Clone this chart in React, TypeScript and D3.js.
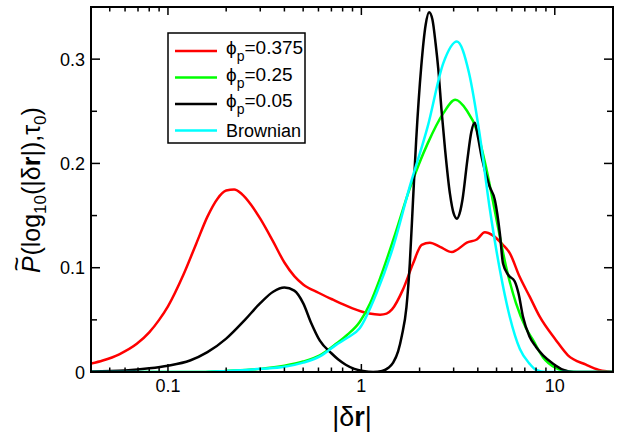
import React from "react";
import * as d3 from "d3";

const W = 625;
const H = 437;
const PLOT = { left: 91, right: 613, top: 7, bottom: 372 };

const X_DOMAIN: [number, number] = [0.04, 20];
const Y_DOMAIN: [number, number] = [0, 0.35];

const X_MAJOR = [0.1, 1, 10];
const X_MAJOR_LABELS = ["0.1", "1", "10"];
const X_MINOR = [0.05, 0.06, 0.07, 0.08, 0.09, 0.2, 0.3, 0.4, 0.5, 0.6, 0.7, 0.8, 0.9, 2, 3, 4, 5, 6, 7, 8, 9];
const Y_MAJOR = [0, 0.1, 0.2, 0.3];
const Y_MAJOR_LABELS = ["0", "0.1", "0.2", "0.3"];
const Y_MINOR = [0.05, 0.15, 0.25];

// phi_p = 0.375 (red)
const redX = [0.04, 0.046, 0.056, 0.069, 0.08, 0.09, 0.1, 0.12, 0.14, 0.16, 0.18, 0.2, 0.22, 0.24, 0.27, 0.3, 0.35, 0.4, 0.45, 0.5, 0.6, 0.7, 0.8, 0.9, 1.0, 1.1, 1.25, 1.35, 1.44, 1.64, 1.85, 2.05, 2.26, 2.55, 2.94, 3.11, 3.51, 3.95, 4.35, 4.78, 5.39, 5.85, 6.59, 7.43, 8.36, 10.1, 11.7, 14.5, 16.9, 19, 20];
const redY = [0.008, 0.011, 0.017, 0.027, 0.038, 0.05, 0.063, 0.093, 0.123, 0.149, 0.166, 0.174, 0.175, 0.171, 0.16, 0.147, 0.125, 0.105, 0.092, 0.084, 0.076, 0.07, 0.065, 0.061, 0.058, 0.056, 0.055, 0.056, 0.06, 0.079, 0.104, 0.122, 0.124, 0.12, 0.115, 0.117, 0.124, 0.127, 0.134, 0.131, 0.122, 0.114, 0.091, 0.072, 0.053, 0.031, 0.016, 0.007, 0.002, 0.0005, 0.0];

// phi_p = 0.25 (green)
const greenX = [0.04, 0.15, 0.2, 0.3, 0.4, 0.5, 0.61, 0.74, 0.85, 0.98, 1.11, 1.25, 1.47, 1.78, 2.2, 2.65, 3.06, 3.5, 3.95, 4.44, 5.0, 5.6, 6.3, 7.1, 7.7, 8.7, 10.1, 11.4, 13, 20];
const greenY = [0, 0, 0.001, 0.003, 0.006, 0.01, 0.016, 0.027, 0.036, 0.048, 0.066, 0.09, 0.128, 0.176, 0.219, 0.248, 0.261, 0.251, 0.232, 0.194, 0.146, 0.101, 0.066, 0.042, 0.031, 0.014, 0.004, 0.001, 0, 0];

// phi_p = 0.05 (black)
const blackX = [0.04, 0.06, 0.08, 0.1, 0.13, 0.16, 0.2, 0.25, 0.3, 0.35, 0.4, 0.45, 0.5, 0.55, 0.61, 0.7, 0.76, 0.83, 0.92, 1.02, 1.15, 1.28, 1.38, 1.46, 1.55, 1.62, 1.71, 1.78, 1.85, 1.92, 2.04, 2.15, 2.24, 2.33, 2.42, 2.5, 2.6, 2.71, 2.87, 3.0, 3.12, 3.22, 3.33, 3.53, 3.7, 3.86, 4.0, 4.2, 4.6, 4.9, 5.2, 5.4, 5.75, 6.2, 6.5, 6.85, 7.4, 8.0, 8.7, 9.8, 11.1, 12.5, 20];
const blackY = [0.0005, 0.0015, 0.0035, 0.006, 0.011, 0.019, 0.032, 0.05, 0.066, 0.077, 0.081, 0.078, 0.066, 0.047, 0.03, 0.018, 0.012, 0.007, 0.003, 0.001, 0.0, 0.001, 0.004, 0.009, 0.02, 0.035, 0.062, 0.104, 0.165, 0.222, 0.293, 0.333, 0.345, 0.338, 0.315, 0.29, 0.25, 0.213, 0.171, 0.152, 0.147, 0.152, 0.165, 0.203, 0.23, 0.239, 0.226, 0.205, 0.178, 0.165, 0.133, 0.104, 0.093, 0.087, 0.075, 0.053, 0.034, 0.024, 0.016, 0.008, 0.002, 0, 0];

// Brownian (cyan)
const cyanX = [0.04, 0.15, 0.2, 0.3, 0.4, 0.5, 0.61, 0.74, 0.85, 0.98, 1.2, 1.46, 1.78, 2.2, 2.65, 3.12, 3.6, 4.08, 4.6, 5.2, 5.85, 6.6, 7.4, 8.0, 9, 20];
const cyanY = [0, 0, 0.001, 0.003, 0.005, 0.009, 0.015, 0.026, 0.033, 0.042, 0.076, 0.12, 0.178, 0.235, 0.296, 0.317, 0.287, 0.229, 0.158, 0.098, 0.053, 0.022, 0.008, 0.002, 0, 0];

const SERIES = [
  { key: "red", xs: redX, ys: redY, color: "#ff0000", label: "0.375" },
  { key: "green", xs: greenX, ys: greenY, color: "#00ff00", label: "0.25" },
  { key: "black", xs: blackX, ys: blackY, color: "#000000", label: "0.05" },
  { key: "cyan", xs: cyanX, ys: cyanY, color: "#00ffff", label: "Brownian" },
];

const FONT = "'Liberation Sans', Arial, Helvetica, sans-serif";

export default function App() {
  const x = d3.scaleLog().domain(X_DOMAIN).range([PLOT.left, PLOT.right]);
  const y = d3.scaleLinear().domain(Y_DOMAIN).range([PLOT.bottom, PLOT.top]);
  const line = d3
    .line<[number, number]>()
    .x((d) => x(d[0]))
    .y((d) => y(d[1]))
    .curve(d3.curveMonotoneX);

  const legendRows = [51, 77.5, 104, 130.5];

  return (
    <svg
      width={W}
      height={H}
      style={{ position: "fixed", left: 0, top: 0, background: "#fff" }}
      fontFamily={FONT}
    >
      <defs>
        <clipPath id="plotclip">
          <rect x={PLOT.left} y={PLOT.top} width={PLOT.right - PLOT.left} height={PLOT.bottom - PLOT.top} />
        </clipPath>
      </defs>
      <g clipPath="url(#plotclip)">
        {SERIES.map((s) => (
          <path
            key={s.key}
            d={line(s.xs.map((v, i) => [v, s.ys[i]] as [number, number])) || ""}
            fill="none"
            stroke={s.color}
            strokeWidth={2.5}
            strokeLinejoin="round"
          />
        ))}
      </g>

      {/* frame */}
      <rect
        x={PLOT.left}
        y={PLOT.top}
        width={PLOT.right - PLOT.left}
        height={PLOT.bottom - PLOT.top}
        fill="none"
        stroke="#000"
        strokeWidth={2}
      />

      {/* x ticks bottom & top */}
      {X_MAJOR.map((v) => (
        <g key={"xM" + v}>
          <line x1={x(v)} x2={x(v)} y1={PLOT.bottom} y2={PLOT.bottom - 8} stroke="#000" strokeWidth={1.5} />
          <line x1={x(v)} x2={x(v)} y1={PLOT.top} y2={PLOT.top + 8} stroke="#000" strokeWidth={1.5} />
        </g>
      ))}
      {X_MINOR.map((v) => (
        <g key={"xm" + v}>
          <line x1={x(v)} x2={x(v)} y1={PLOT.bottom} y2={PLOT.bottom - 4.5} stroke="#000" strokeWidth={1.5} />
          <line x1={x(v)} x2={x(v)} y1={PLOT.top} y2={PLOT.top + 4.5} stroke="#000" strokeWidth={1.5} />
        </g>
      ))}
      {X_MAJOR.map((v, i) => (
        <text key={"xl" + v} x={x(v)} y={392} textAnchor="middle" fontSize={18} fill="#000">
          {X_MAJOR_LABELS[i]}
        </text>
      ))}

      {/* y ticks left & right */}
      {Y_MAJOR.map((v) => (
        <g key={"yM" + v}>
          <line x1={PLOT.left} x2={PLOT.left + 9} y1={y(v)} y2={y(v)} stroke="#000" strokeWidth={1.5} />
          <line x1={PLOT.right} x2={PLOT.right - 9} y1={y(v)} y2={y(v)} stroke="#000" strokeWidth={1.5} />
        </g>
      ))}
      {Y_MINOR.map((v) => (
        <g key={"ym" + v}>
          <line x1={PLOT.left} x2={PLOT.left + 6} y1={y(v)} y2={y(v)} stroke="#000" strokeWidth={1.5} />
          <line x1={PLOT.right} x2={PLOT.right - 6} y1={y(v)} y2={y(v)} stroke="#000" strokeWidth={1.5} />
        </g>
      ))}
      {Y_MAJOR.map((v, i) => (
        <text key={"yl" + v} x={85} y={y(v) + 6.5} textAnchor="end" fontSize={18} fill="#000">
          {Y_MAJOR_LABELS[i]}
        </text>
      ))}

      {/* x axis title */}
      <text x={352} y={426} textAnchor="middle" fontSize={27} fill="#000">
        |δ<tspan fontWeight="bold">r</tspan>|
      </text>

      {/* y axis title */}
      <text transform={`translate(40,${190}) rotate(-90)`} textAnchor="middle" fontSize={25} fill="#000">
        <tspan fontStyle="italic">P</tspan>
        <tspan dx={-15} dy={-15}>~</tspan>
        <tspan dx={1} dy={15}>(log</tspan>
        <tspan fontSize={17} dy={6}>10</tspan>
        <tspan dy={-6}>(|δ</tspan>
        <tspan fontWeight="bold">r</tspan>
        <tspan>|),τ</tspan>
        <tspan fontSize={17} dy={6}>0</tspan>
        <tspan dy={-6}>)</tspan>
      </text>

      {/* legend */}
      <rect x={168} y={33} width={137} height={110} fill="#fff" stroke="#000" strokeWidth={1.5} />
      {SERIES.map((s, i) => (
        <g key={"lg" + s.key}>
          <line x1={175} x2={217} y1={legendRows[i]} y2={legendRows[i]} stroke={s.color} strokeWidth={2.5} />
          {s.key === "cyan" ? (
            <text x={226} y={legendRows[i] + 6} fontSize={18} fill="#000">
              {s.label}
            </text>
          ) : (
            <text x={226} y={legendRows[i] + 3} fontSize={19} fill="#000">
              ϕ<tspan fontSize={14} dy={7}>p</tspan>
              <tspan dy={-7}>={s.label}</tspan>
            </text>
          )}
        </g>
      ))}
    </svg>
  );
}
